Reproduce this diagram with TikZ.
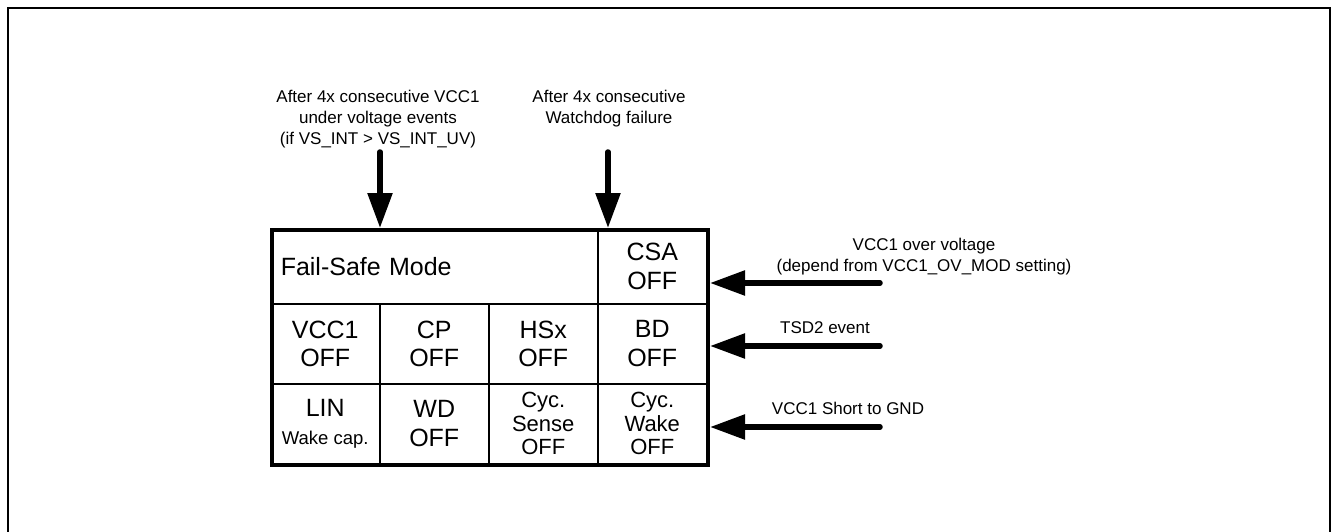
\documentclass[tikz,border=0pt]{standalone}
\usepackage{fontspec}
\setmainfont{Liberation Sans}
\usetikzlibrary{arrows.meta}
\newcommand\myfs[2]{\fontsize{#1}{#2}\selectfont}
\begin{document}
\begin{tikzpicture}[x=1pt,y=-1pt,
  cell/.style={draw, line width=1.5pt, inner sep=0pt, anchor=north west,
    minimum width=109pt, minimum height=80pt, align=center, font=\myfs{25}{28.5}},
  cyc/.style={font=\myfs{22}{23.5}},
  lbl/.style={inner sep=0pt, align=center, font=\myfs{17}{21}},
  bigarrow/.style={line width=5.5pt, line cap=round, -{Triangle[length=35pt,width=24pt]}},
  frame/.style={line width=1.5pt}]
\useasboundingbox (0,0) rectangle (1333,532);
\draw[frame] (8,545) -- (8,8) -- (1330,8) -- (1330,545);
% row 1
\node[cell, minimum width=327pt, minimum height=75pt, text width=307pt, align=left, inner xsep=10pt] (fsm) at (270,228) {Fail-Safe Mode};
\node[cell, minimum height=75pt] (csa) at (597,228) {CSA\\OFF};
% row 2
\node[cell] (vcc) at (270,303) {VCC1\\OFF};
\node[cell] (cp) at (379,303) {CP\\OFF};
\node[cell] (hsx) at (488,303) {HSx\\OFF};
\node[cell] (bd) at (597,303) {BD\\OFF};
% row 3
\node[cell] (lin) at (270,383) {LIN\\{\myfs{18.5}{22}Wake cap.}};
\node[cell] (wd) at (379,383) {WD\\OFF};
\node[cell, cyc] (cs) at (488,383) {Cyc.\\Sense\\OFF};
\node[cell, cyc] (cw) at (597,383) {Cyc.\\Wake\\OFF};
% outer thick border
\node[draw, line width=4pt, inner sep=0pt, anchor=north west, minimum width=436pt, minimum height=235pt] (table) at (270,228) {};
% labels
\node[lbl] (l1) at (378,119) {After 4x consecutive VCC1\\under voltage events\\(if VS\_INT > VS\_INT\_UV)};
\node[lbl] (l2) at (609,108.5) {After 4x consecutive\\Watchdog failure};
\node[lbl] (l3) at (924,257) {VCC1 over voltage\\(depend from VCC1\_OV\_MOD setting)};
\node[lbl] (l4) at (825,328) {TSD2 event};
\node[lbl] (l5) at (848,408) {VCC1 Short to GND};
% arrow tails
\coordinate (a1) at (380,152);
\coordinate (a2) at (608,152);
\coordinate (a3) at (880,283);
\coordinate (a4) at (880,346);
\coordinate (a5) at (880,427);
\draw[bigarrow] (a1) -- (a1 |- table.north);
\draw[bigarrow] (a2) -- (a2 |- table.north);
\draw[bigarrow] (a3) -- (a3 -| table.east);
\draw[bigarrow] (a4) -- (a4 -| table.east);
\draw[bigarrow] (a5) -- (a5 -| table.east);
\end{tikzpicture}
\end{document}
